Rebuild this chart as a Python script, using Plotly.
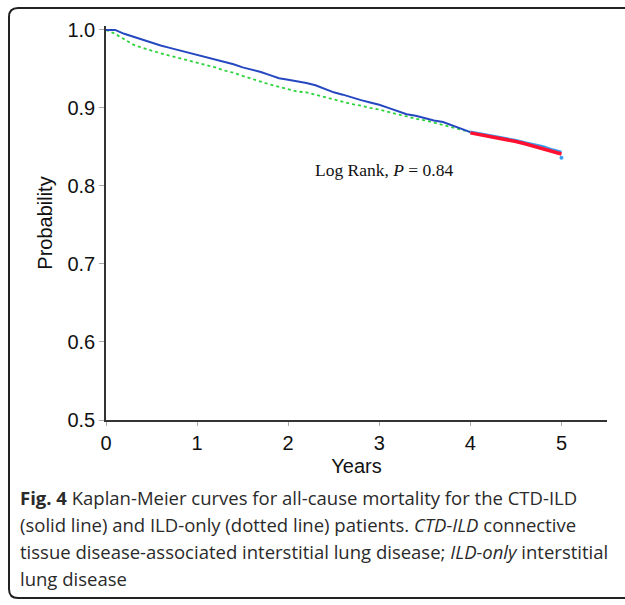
import plotly.graph_objects as go

# ---- data ----
years_a = [0, 0.1, 0.2, 0.3, 0.4, 0.5, 0.6, 0.7, 0.8, 0.9, 1.0, 1.1, 1.2, 1.3, 1.4, 1.5,
           1.6, 1.7, 1.8, 1.9, 2.0, 2.1, 2.2, 2.3, 2.4, 2.5, 2.6, 2.7, 2.8, 2.9, 3.0,
           3.1, 3.2, 3.3, 3.4, 3.5, 3.6, 3.7, 3.8, 3.9, 4.0]
ctd_ild = [1.0, 1.0, 0.995, 0.991, 0.987, 0.983, 0.980, 0.977, 0.974, 0.971, 0.968,
           0.965, 0.962, 0.959, 0.956, 0.952, 0.949, 0.946, 0.942, 0.938, 0.936,
           0.934, 0.932, 0.929, 0.924, 0.920, 0.917, 0.913, 0.910, 0.907, 0.904,
           0.900, 0.896, 0.892, 0.890, 0.887, 0.884, 0.882, 0.878, 0.874, 0.869]
ild_only = [1.0, 0.995, 0.988, 0.981, 0.977, 0.973, 0.970, 0.967, 0.964, 0.961, 0.958,
            0.955, 0.952, 0.948, 0.945, 0.941, 0.937, 0.933, 0.930, 0.927, 0.924,
            0.921, 0.920, 0.917, 0.914, 0.911, 0.908, 0.905, 0.903, 0.900, 0.898,
            0.895, 0.892, 0.889, 0.886, 0.884, 0.881, 0.878, 0.875, 0.872, 0.869]
years_b = [4.0, 4.1, 4.2, 4.3, 4.4, 4.5, 4.6, 4.7, 4.8, 4.9, 5.0]
ctd_tail = [0.869, 0.867, 0.865, 0.863, 0.861, 0.858, 0.855, 0.853, 0.850, 0.846, 0.843]
ild_tail = [0.868, 0.866, 0.864, 0.862, 0.860, 0.857, 0.854, 0.851, 0.848, 0.845, 0.841]
ctd_end_x = [5.0]
ctd_end_y = [0.836]

x_ticks = [0, 1, 2, 3, 4, 5]
y_ticks = [0.5, 0.6, 0.7, 0.8, 0.9, 1.0]
y_tick_text = ["0.5", "0.6", "0.7", "0.8", "0.9", "1.0"]

caption_lines = [
    "<b>Fig. 4</b> Kaplan-Meier curves for all-cause mortality for the CTD-ILD",
    "(solid line) and ILD-only (dotted line) patients. <i>CTD-ILD</i> connective",
    "tissue disease-associated interstitial lung disease; <i>ILD-only</i> interstitial",
    "lung disease",
]

# ---- layout geometry (pixels) ----
W, H = 625, 605
L, R, T, B = 106, 607, 26, 420


def px(x):
    return (x - L) / (R - L)


def py(y):
    return (B - y) / (B - T)


fig = go.Figure()
fig.add_trace(go.Scatter(x=years_a, y=ild_only, mode="lines",
                         line=dict(color="#2ad43a", width=1.8, dash="dot"), name="ILD-only"))
fig.add_trace(go.Scatter(x=years_a, y=ctd_ild, mode="lines",
                         line=dict(color="#2548c0", width=2), name="CTD-ILD"))
fig.add_trace(go.Scatter(x=years_b, y=ctd_tail, mode="lines",
                         line=dict(color="#3a9ff0", width=3.5), name="CTD-ILD tail"))
fig.add_trace(go.Scatter(x=years_b, y=ild_tail, mode="lines",
                         line=dict(color="#ff1030", width=3.5), name="ILD-only tail"))
fig.add_trace(go.Scatter(x=ctd_end_x, y=ctd_end_y, mode="markers",
                         marker=dict(color="#3a9ff0", size=4), name="end"))

axis_font = dict(family="Liberation Sans, Arial", size=20, color="#111")
fig.update_xaxes(range=[0, 5.5], tickvals=x_ticks, ticks="outside", ticklen=4,
                 tickcolor="#aaa", showline=True, linecolor="#333", linewidth=1.5,
                 showgrid=False, zeroline=False, tickfont=axis_font,
                 title=dict(text="Years", font=axis_font, standoff=6))
fig.update_yaxes(range=[0.5, 1.005], tickvals=y_ticks, ticktext=y_tick_text,
                 ticks="outside", ticklen=5, tickcolor="#aaa", showline=True,
                 linecolor="#333", linewidth=1.5, showgrid=False, zeroline=False,
                 tickfont=axis_font, title=dict(text="Probability", font=axis_font, standoff=9))

fig.add_annotation(x=2.27, y=0.8205, xanchor="left", yanchor="middle", showarrow=False,
                   text="Log Rank, <i>P</i> = 0.84",
                   font=dict(family="Liberation Serif, Times New Roman", size=17.5, color="#111"))

cap_font = dict(family="Open Sans", size=18.5, color="#2a2a2a")
for i, line in enumerate(caption_lines):
    fig.add_annotation(x=px(18), y=py(497 + 27 * i), xref="paper", yref="paper",
                       xanchor="left", yanchor="middle", showarrow=False,
                       text=line, font=cap_font)

# rounded frame (left, top, bottom edges; right side runs off the canvas)
x0, x1, y0, y1, r = 9, 640, 8, 598, 9
path = (f"M {px(x1)},{py(y0)} L {px(x0 + r)},{py(y0)} Q {px(x0)},{py(y0)} {px(x0)},{py(y0 + r)} "
        f"L {px(x0)},{py(y1 - r)} Q {px(x0)},{py(y1)} {px(x0 + r)},{py(y1)} L {px(x1)},{py(y1)}")
fig.add_shape(type="path", path=path, xref="paper", yref="paper",
              line=dict(color="#222", width=2))

fig.update_layout(width=W, height=H, margin=dict(l=L, r=W - R, t=T, b=H - B),
                  paper_bgcolor="white", plot_bgcolor="white", showlegend=False)

fig.write_html("out.html", config={"displayModeBar": False},
               post_script="document.body.style.margin='0';")
